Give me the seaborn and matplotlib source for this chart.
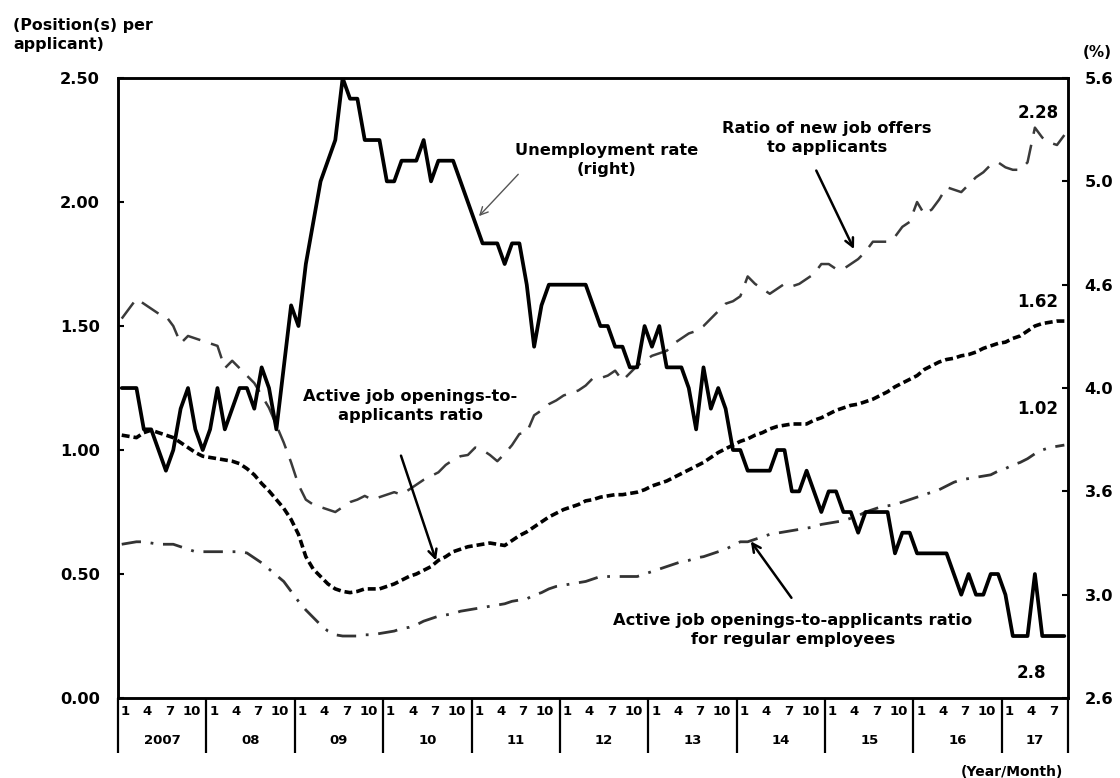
import numpy as np
import pandas as pd
import matplotlib.pyplot as plt
import seaborn as sns
from matplotlib import transforms

# x axis: monthly, Jan 2007 .. Sep 2017
years = ['2007', '08', '09', '10', '11', '12', '13', '14', '15', '16', '17']
month_labels = ['1', '4', '7', '10']

# ratio of new job offers to applicants (left axis)
new_offers = [1.53, 1.57, 1.61, 1.59, 1.57, 1.55, 1.54, 1.50, 1.43, 1.46, 1.45, 1.44,
              1.43, 1.42, 1.33, 1.36, 1.33, 1.30, 1.27, 1.22, 1.17, 1.10, 1.03, 0.95,
              0.86, 0.80, 0.78, 0.77, 0.76, 0.75, 0.77, 0.79, 0.80, 0.815, 0.80, 0.81,
              0.82, 0.83, 0.82, 0.84, 0.86, 0.88, 0.895, 0.91, 0.94, 0.96, 0.975, 0.98,
              1.01, 1.00, 0.98, 0.955, 0.985, 1.02, 1.065, 1.07, 1.14, 1.16, 1.185, 1.20,
              1.22, 1.23, 1.24, 1.26, 1.29, 1.29, 1.30, 1.32, 1.28, 1.31, 1.34, 1.36,
              1.38, 1.39, 1.40, 1.43, 1.45, 1.47, 1.48, 1.50, 1.53, 1.56, 1.59, 1.60,
              1.62, 1.70, 1.67, 1.65, 1.63, 1.65, 1.67, 1.66, 1.67, 1.69, 1.71, 1.75,
              1.75, 1.73, 1.73, 1.75, 1.77, 1.80, 1.84, 1.84, 1.84, 1.86, 1.90, 1.92,
              2.00, 1.95, 1.97, 2.01, 2.06, 2.05, 2.04, 2.07, 2.10, 2.12, 2.15, 2.16,
              2.14, 2.13, 2.13, 2.16, 2.30, 2.26, 2.24, 2.23, 2.27]

# active job openings-to-applicants ratio (left axis)
active = [1.06, 1.055, 1.05, 1.07, 1.08, 1.07, 1.06, 1.05, 1.03, 1.01, 0.99, 0.975,
          0.97, 0.965, 0.96, 0.955, 0.945, 0.925, 0.90, 0.865, 0.835, 0.80, 0.765, 0.72,
          0.66, 0.57, 0.52, 0.49, 0.46, 0.44, 0.43, 0.425, 0.43, 0.44, 0.44, 0.44,
          0.45, 0.46, 0.475, 0.49, 0.50, 0.515, 0.53, 0.555, 0.57, 0.59, 0.60, 0.61,
          0.615, 0.62, 0.625, 0.62, 0.615, 0.635, 0.655, 0.67, 0.69, 0.71, 0.73, 0.745,
          0.76, 0.77, 0.78, 0.795, 0.80, 0.81, 0.815, 0.82, 0.82, 0.825, 0.83, 0.84,
          0.855, 0.865, 0.875, 0.89, 0.905, 0.92, 0.935, 0.95, 0.97, 0.99, 1.005, 1.02,
          1.035, 1.045, 1.06, 1.07, 1.085, 1.095, 1.10, 1.105, 1.105, 1.105, 1.12, 1.13,
          1.145, 1.16, 1.17, 1.18, 1.185, 1.195, 1.205, 1.22, 1.235, 1.255, 1.27, 1.285,
          1.30, 1.325, 1.34, 1.355, 1.365, 1.37, 1.38, 1.385, 1.395, 1.41, 1.42, 1.43,
          1.435, 1.45, 1.46, 1.48, 1.50, 1.51, 1.515, 1.52, 1.52]

# active ratio for regular employees (left axis)
regular = [0.62, 0.625, 0.63, 0.63, 0.625, 0.62, 0.62, 0.62, 0.61, 0.60, 0.59, 0.59,
           0.59, 0.59, 0.59, 0.59, 0.59, 0.585, 0.565, 0.545, 0.52, 0.495, 0.47, 0.43,
           0.39, 0.355, 0.325, 0.295, 0.27, 0.255, 0.25, 0.25, 0.25, 0.255, 0.255, 0.26,
           0.265, 0.27, 0.28, 0.285, 0.295, 0.31, 0.32, 0.33, 0.335, 0.34, 0.35, 0.355,
           0.36, 0.365, 0.37, 0.375, 0.38, 0.39, 0.395, 0.40, 0.415, 0.425, 0.44, 0.45,
           0.455, 0.46, 0.465, 0.47, 0.48, 0.49, 0.49, 0.49, 0.49, 0.49, 0.49, 0.50,
           0.51, 0.52, 0.53, 0.54, 0.55, 0.555, 0.565, 0.57, 0.58, 0.59, 0.60, 0.615,
           0.63, 0.63, 0.64, 0.65, 0.66, 0.665, 0.67, 0.675, 0.68, 0.685, 0.69, 0.70,
           0.705, 0.71, 0.715, 0.725, 0.735, 0.75, 0.76, 0.77, 0.775, 0.78, 0.79, 0.80,
           0.81, 0.82, 0.83, 0.84, 0.855, 0.87, 0.88, 0.885, 0.89, 0.895, 0.90, 0.915,
           0.925, 0.94, 0.95, 0.965, 0.985, 1.00, 1.01, 1.015, 1.02]

# unemployment rate % (right axis)
unemp = [4.0, 4.0, 4.0, 3.8, 3.8, 3.7, 3.6, 3.7, 3.9, 4.0, 3.8, 3.7,
         3.8, 4.0, 3.8, 3.9, 4.0, 4.0, 3.9, 4.1, 4.0, 3.8, 4.1, 4.4,
         4.3, 4.6, 4.8, 5.0, 5.1, 5.2, 5.5, 5.4, 5.4, 5.2, 5.2, 5.2,
         5.0, 5.0, 5.1, 5.1, 5.1, 5.2, 5.0, 5.1, 5.1, 5.1, 5.0, 4.9,
         4.8, 4.7, 4.7, 4.7, 4.6, 4.7, 4.7, 4.5, 4.2, 4.4, 4.5, 4.5,
         4.5, 4.5, 4.5, 4.5, 4.4, 4.3, 4.3, 4.2, 4.2, 4.1, 4.1, 4.3,
         4.2, 4.3, 4.1, 4.1, 4.1, 4.0, 3.8, 4.1, 3.9, 4.0, 3.9, 3.7,
         3.7, 3.6, 3.6, 3.6, 3.6, 3.7, 3.7, 3.5, 3.5, 3.6, 3.5, 3.4,
         3.5, 3.5, 3.4, 3.4, 3.3, 3.4, 3.4, 3.4, 3.4, 3.2, 3.3, 3.3,
         3.2, 3.2, 3.2, 3.2, 3.2, 3.1, 3.0, 3.1, 3.0, 3.0, 3.1, 3.1,
         3.0, 2.8, 2.8, 2.8, 3.1, 2.8, 2.8, 2.8, 2.8]

left_ticks = [0.0, 0.5, 1.0, 1.5, 2.0, 2.5]
right_ticks = [2.5, 3.0, 3.5, 4.0, 4.5, 5.0, 5.5]
right_tick_labels = ['2.6', '3.0', '3.6', '4.0', '4.6', '5.0', '5.6']

n = len(unemp)
df = pd.DataFrame({'month': np.arange(n), 'new_offers': new_offers,
                   'active': active, 'regular': regular, 'unemp': unemp})

sns.set_style('white')
plt.rcParams['font.family'] = ['DejaVu Sans']
plt.rcParams['font.weight'] = 'bold'
plt.rcParams['text.color'] = 'black'
plt.rcParams['xtick.color'] = 'black'
plt.rcParams['ytick.color'] = 'black'
plt.rcParams['axes.labelcolor'] = 'black'

fig = plt.figure(figsize=(11.2, 7.78), dpi=100)
ax = fig.add_axes([0.1054, 0.1028, 0.8482, 0.7969])
ax2 = ax.twinx()

sns.lineplot(data=df, x='month', y='new_offers', ax=ax, color='#3a3a3a',
             lw=1.8, linestyle=(0, (8, 4.5)))
sns.lineplot(data=df, x='month', y='active', ax=ax, color='black',
             lw=2.6, linestyle=(0, (2.2, 1.1)))
sns.lineplot(data=df, x='month', y='regular', ax=ax, color='#333333',
             lw=2.0, linestyle=(0, (7, 3.5, 1, 3.5)))
sns.lineplot(data=df, x='month', y='unemp', ax=ax2, color='black', lw=2.7)

ax.set_xlim(-0.5, n - 0.5)
ax.set_ylim(0, 2.5)
ax2.set_ylim(2.5, 5.5)
for a in (ax, ax2):
    a.set_xlabel('')
    a.set_ylabel('')
    for s in a.spines.values():
        s.set_linewidth(1.8)
        s.set_color('black')

ax.set_yticks(left_ticks)
ax.set_yticklabels(['%.2f' % t for t in left_ticks])
ax.tick_params(axis='y', direction='in', length=4, width=1.5, pad=13, labelsize=11.7)
ax2.set_yticks(right_ticks)
ax2.set_yticklabels(right_tick_labels)
ax2.tick_params(axis='y', direction='in', length=4, width=1.5, pad=12, labelsize=11.7)

# month ticks and year boxes under the axis
tick_pos, tick_lab = [], []
for k, y in enumerate(years):
    for m in month_labels:
        pos = k * 12 + int(m) - 0.5
        if pos < n:
            tick_pos.append(pos)
            tick_lab.append(m)
ax.set_xticks(tick_pos)
ax.set_xticklabels(tick_lab)
ax.tick_params(axis='x', length=0, pad=5, labelsize=9.5)

trans = transforms.blended_transform_factory(ax.transData, ax.transAxes)
bounds = [k * 12 - 0.5 for k in range(len(years))] + [n - 0.5]
for b in bounds:
    ax.plot([b, b], [0, -0.089], transform=trans, color='black', lw=1.6,
            clip_on=False, solid_capstyle='butt')
for k, y in enumerate(years):
    c = (bounds[k] + bounds[k + 1]) / 2
    ax.text(c, -0.068, y, transform=trans, ha='center', va='center',
            fontsize=9.5, fontweight='bold')

# annotations
ax.annotate('', xy=(48.25, 1.935), xytext=(54.1, 2.12),
            arrowprops=dict(arrowstyle='->', color='#555555', lw=1.0, mutation_scale=14))
ax.text(65.8, 2.17, 'Unemployment rate\n(right)', ha='center', va='center',
        fontsize=11.7, fontweight='bold', linespacing=1.3)

ax.annotate('', xy=(99.6, 1.80), xytext=(94.15, 2.137),
            arrowprops=dict(arrowstyle='->', color='black', lw=1.8, mutation_scale=15))
ax.text(95.8, 2.258, 'Ratio of new job offers\nto applicants', ha='center', va='center',
        fontsize=11.7, fontweight='bold', linespacing=1.3)

ax.annotate('', xy=(42.8, 0.544), xytext=(37.8, 0.988),
            arrowprops=dict(arrowstyle='->', color='black', lw=1.8, mutation_scale=15))
ax.text(39.2, 1.177, 'Active job openings-to-\napplicants ratio', ha='center', va='center',
        fontsize=11.7, fontweight='bold', linespacing=1.3)

ax.annotate('', xy=(85.2, 0.641), xytext=(91.16, 0.395),
            arrowprops=dict(arrowstyle='->', color='black', lw=1.8, mutation_scale=15))
ax.text(91.16, 0.274, 'Active job openings-to-applicants ratio\nfor regular employees',
        ha='center', va='center', fontsize=11.7, fontweight='bold', linespacing=1.3)

# end values
ax.text(124.4, 2.359, '2.28', ha='center', va='center', fontsize=12, fontweight='bold')
ax.text(124.4, 1.597, '1.62', ha='center', va='center', fontsize=12, fontweight='bold')
ax.text(124.4, 1.165, '1.02', ha='center', va='center', fontsize=12, fontweight='bold')
ax.text(123.5, 0.10, '2.8', ha='center', va='center', fontsize=12, fontweight='bold')

fig.text(0.0116, 0.955, '(Position(s) per\napplicant)', ha='left', va='center',
         fontsize=11.4, fontweight='bold', linespacing=1.3)
fig.text(0.9795, 0.933, '(%)', ha='center', va='center', fontsize=11, fontweight='bold')
fig.text(0.9036, 0.0077, '(Year/Month)', ha='center', va='center', fontsize=10,
         fontweight='bold')

fig.savefig('out.png', dpi=100)
